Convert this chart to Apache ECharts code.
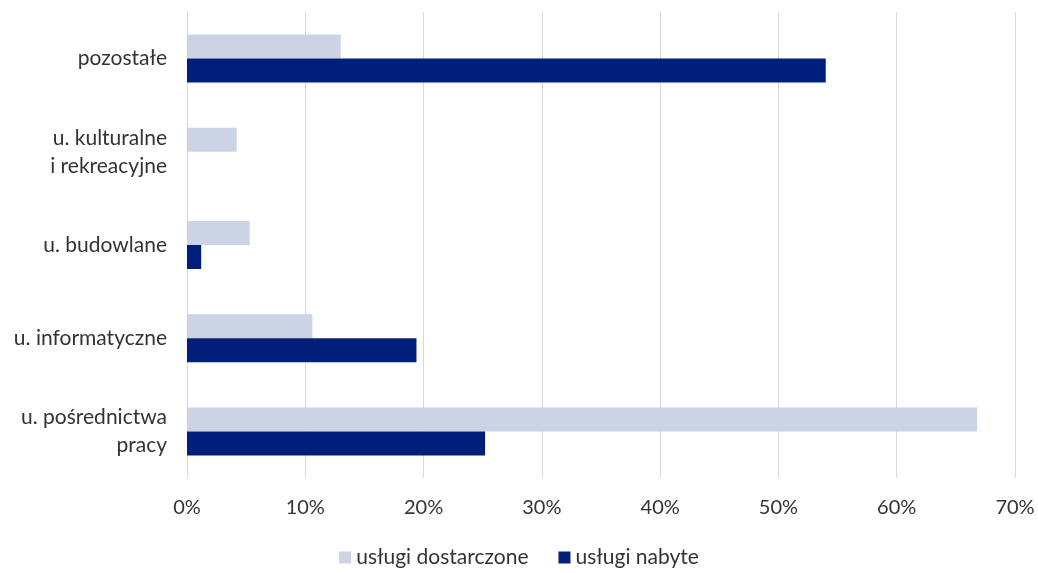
<!DOCTYPE html>
<html><head><meta charset="utf-8">
<script src="https://cdn.jsdelivr.net/npm/echarts@6/dist/echarts.min.js"></script>
<style>html,body{margin:0;padding:0;background:#fff}#c{width:1038px;height:573px}</style>
</head><body><div id="c"></div>
<script>
const categories = ['u. pośrednictwa\npracy', 'u. informatyczne', 'u. budowlane', 'u. kulturalne\ni rekreacyjne', 'pozostałe'];
const seriesNames = ['usługi dostarczone', 'usługi nabyte'];
const dostarczone = [66.8, 10.6, 5.3, 4.2, 13.0];
const nabyte = [25.2, 19.4, 1.2, 0, 54.0];
const xTicks = [0, 10, 20, 30, 40, 50, 60, 70];

const font = 'Lato, "Open Sans", sans-serif';
const chart = echarts.init(document.getElementById('c'), null, {renderer: 'canvas'});
chart.setOption({
  animation: false,
  textStyle: {fontFamily: font},
  grid: {left: 187, right: 23, top: 12, bottom: 95, containLabel: false},
  legend: {
    bottom: 0, left: 'center', itemWidth: 12, itemHeight: 12, itemGap: 30,
    icon: 'rect',
    textStyle: {fontSize: 21, color: '#333', fontFamily: font},
    data: seriesNames
  },
  xAxis: {
    type: 'value', min: xTicks[0], max: xTicks[xTicks.length - 1], interval: 10,
    axisLine: {show: false}, axisTick: {show: false},
    splitLine: {show: true, lineStyle: {color: '#d9d9d9', width: 1}},
    axisLabel: {formatter: v => v + '%', fontSize: 20, color: '#333', margin: 20, fontFamily: font}
  },
  yAxis: {
    type: 'category', data: categories,
    axisLine: {show: true, lineStyle: {color: '#d9d9d9'}}, axisTick: {show: false},
    axisLabel: {fontSize: 21, color: '#333', margin: 20, lineHeight: 28, align: 'right', fontFamily: font}
  },
  series: [
    {name: seriesNames[0], type: 'bar', data: dostarczone, barWidth: 24, barGap: '0%',
     itemStyle: {color: '#ccd3e5'}},
    {name: seriesNames[1], type: 'bar', data: nabyte, barWidth: 24, barGap: '0%',
     itemStyle: {color: '#001f7a'}}
  ]
});
</script></body></html>
